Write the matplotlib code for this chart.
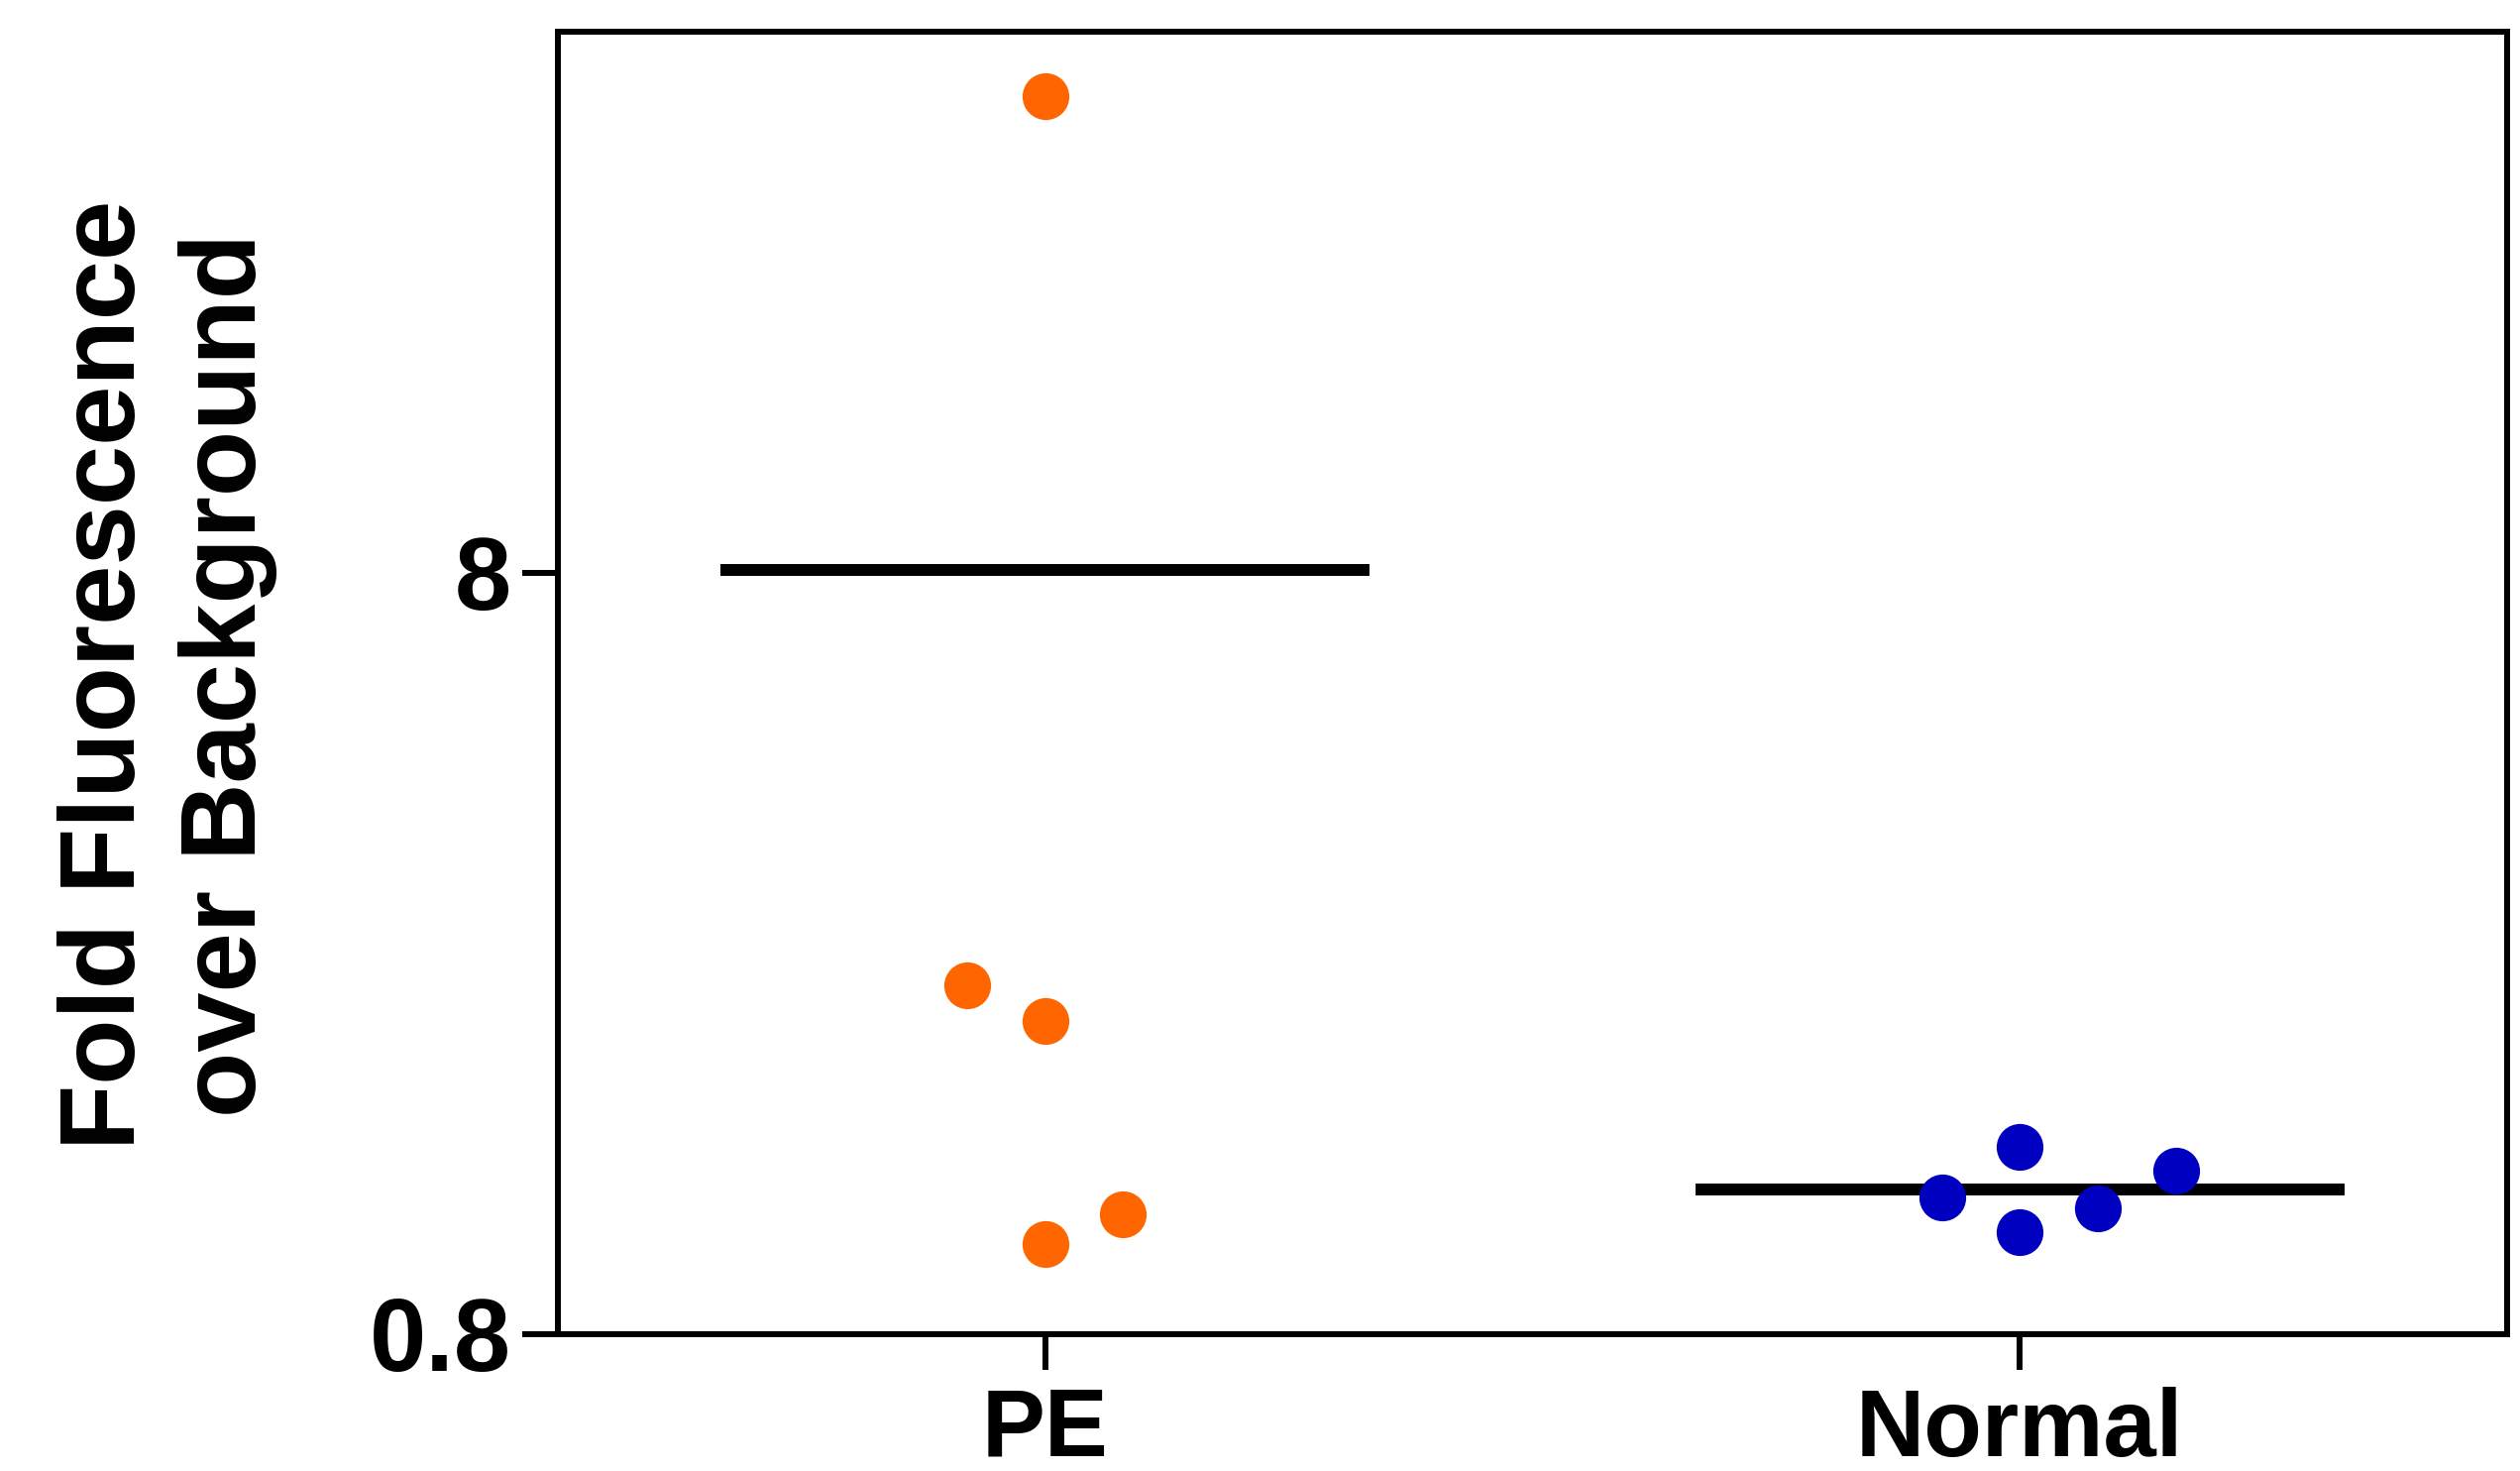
import numpy as np
import matplotlib.pyplot as plt
from matplotlib.ticker import FixedLocator, NullLocator

plt.rcParams['font.family'] = ['Liberation Sans', 'DejaVu Sans']
plt.rcParams['font.weight'] = 'bold'

# data
groups = ['PE', 'Normal']
pe_values = [33.8, 2.30, 2.06, 1.15, 1.05]
pe_offsets = [0.0, -0.08, 0.0, 0.08, 0.0]
normal_values = [1.21, 1.41, 1.09, 1.17, 1.31]
normal_offsets = [-0.08, 0.0, 0.0, 0.08, 0.16]
colors = ['#FF6600', '#0000C0']
ytick_vals = [0.8, 8]
ytick_labels = ['0.8', '8']

fig = plt.figure(figsize=(25.43, 14.84), dpi=100)
ax = fig.add_axes([0.2214, 0.0930, 0.9949 - 0.2214, 0.9784 - 0.0930])

for i, (vals, offs, c) in enumerate(zip([pe_values, normal_values],
                                        [pe_offsets, normal_offsets], colors)):
    xs = i + np.array(offs)
    ax.plot(xs, vals, 'o', color=c, markersize=34, markeredgewidth=0, zorder=3)
    ax.hlines(np.mean(vals), i - 0.333, i + 0.333, color='black', linewidth=8.6, zorder=2)

ax.set_yscale('log')
ax.set_ylim(0.8, 41.1)
ax.set_xlim(-0.5, 1.5)
ax.yaxis.set_major_locator(FixedLocator(ytick_vals))
ax.yaxis.set_minor_locator(NullLocator())
ax.set_yticklabels(ytick_labels)
ax.set_xticks(range(len(groups)))
ax.set_xticklabels(groups)

for s in ax.spines.values():
    s.set_linewidth(4.3)
ax.tick_params(axis='both', which='major', length=26, width=4.3, pad=8)
ax.tick_params(axis='y', labelsize=74)
ax.tick_params(axis='x', labelsize=69, pad=12)

fig.text(0.0665, 0.541, 'Fold Fluorescence\nover Background', rotation=90,
         ha='center', va='center', multialignment='center', fontsize=78,
         fontweight='bold', linespacing=1.28)

fig.savefig('out.png', dpi=100)
